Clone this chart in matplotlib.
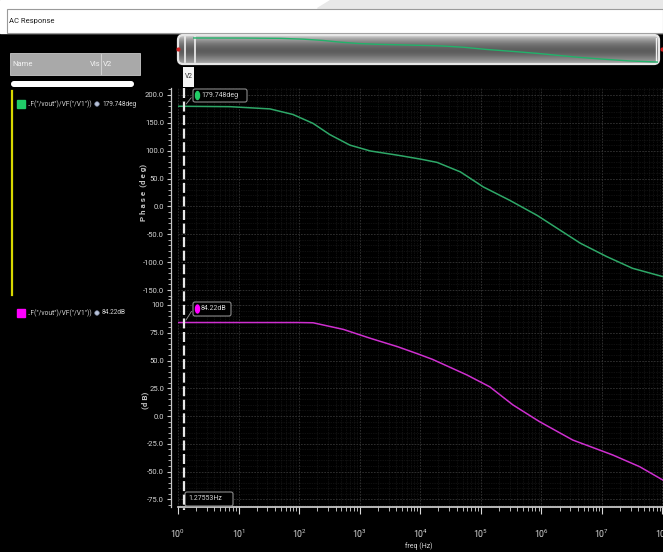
"""
AC response (Virtuoso-style waveform window): phase and magnitude of
VF("/vout")/VF("/V1") vs frequency, with the V2 marker at 1.27553 Hz.
"""
import numpy as np
import matplotlib
matplotlib.use("Agg")
import matplotlib.pyplot as plt
from matplotlib.patches import FancyBboxPatch, Rectangle, Ellipse, Polygon
from matplotlib.ticker import FixedLocator, FixedFormatter, MultipleLocator, LogLocator, NullFormatter
from matplotlib.transforms import blended_transform_factory

W, H = 663, 552
FONT = ["Roboto", "DejaVu Sans"]
plt.rcParams["font.family"] = FONT
plt.rcParams["mathtext.fontset"] = "custom"
plt.rcParams["mathtext.rm"] = "Roboto"
plt.rcParams["mathtext.it"] = "Roboto"

# phase trace
PH_FREQ = [1, 7.2, 33, 79, 170, 320, 690, 1500, 4200, 1.0e4, 1.9e4, 4.6e4,
           1.1e5, 3.0e5, 8.5e5, 2.0e6, 4.4e6, 1.2e7, 3.2e7, 1.02e8]
PH_DEG = [179.75, 179, 175, 165, 149, 129, 110, 99.5, 92, 85, 79, 62,
          35, 11, -16, -42, -66, -90, -111, -126]

# magnitude trace
MAG_FREQ = [1, 100, 170, 540, 1500, 4200, 9100, 1.6e4, 5.9e4, 1.4e5, 3.4e5,
            9.3e5, 3.3e6, 1.5e7, 4.2e7, 1.02e8]
MAG_DB = [84.22, 84.2, 84.0, 78, 70, 62.5, 56, 51, 37, 26.4, 10,
          -5, -21.6, -35, -45.6, -57.7]

# axes ticks
PH_TICKS = [200, 150, 100, 50, 0, -50, -100, -150]
PH_LABELS = ["200.0", "150.0", "100.0", "50.0", "0.0", "-50.0", "-100.0", "-150.0"]
MAG_TICKS = [100, 75, 50, 25, 0, -25, -50, -75]
MAG_LABELS = ["100", "75.0", "50.0", "25.0", "0.0", "-25.0", "-50.0", "-75.0"]
DECADES = [0, 1, 2, 3, 4, 5, 6, 7, 8]

# marker V2
MARKER_F = 1.27553
MARKER_PH = 179.748
MARKER_DB = 84.22
TRACE_NAME = '..F("/vout")/VF("/V1"))'

GREEN = "#2ea868"
MAGENTA = "#cf2fd0"
TXT = "#d6d6d6"


def px_axes(fig, x0, y0, x1, y1, **kw):
    return fig.add_axes([x0 / W, 1 - y1 / H, (x1 - x0) / W, (y1 - y0) / H], **kw)


fig = plt.figure(figsize=(W / 100, H / 100), dpi=100, facecolor="black")

# ---- window chrome -------------------------------------------------------
bg = fig.add_axes([0, 0, 1, 1])
bg.set_xlim(0, W); bg.set_ylim(H, 0); bg.axis("off")
bg.add_patch(Rectangle((0, 0), W, 33, color="white"))
bg.add_patch(Polygon([(330, 0), (W, 0), (W, 8), (317, 8)], color="#e8e8e8"))
bg.add_patch(Rectangle((7, 9), W - 7, 24, facecolor="white", edgecolor="#9a9a9a", lw=0.8))
bg.text(9, 21, "AC Response", fontsize=5.5, color="#202020", va="center")

# left panel
bg.add_patch(Rectangle((10, 53), 130, 22, facecolor="#a9a9a9", edgecolor="#c8c8c8", lw=0.6))
bg.text(12, 64, "Name", fontsize=5.5, color="#f2f2f2", va="center")
bg.text(90, 64, "Vis", fontsize=5.5, color="#f2f2f2", va="center")
bg.plot([101, 101], [54, 74], color="#d8d8d8", lw=0.6)
bg.text(103, 64, "V2", fontsize=5.5, color="#f2f2f2", va="center")
bg.add_patch(FancyBboxPatch((11, 81), 123, 6, boxstyle="round,pad=0,rounding_size=3",
                            facecolor="white", edgecolor="none"))
bg.plot([12, 12], [91, 295], color="#d8d800", lw=1.6)

for y, col, val in [(104, "#20cc68", f"{MARKER_PH}deg"), (313, "#ff00ff", f"{MARKER_DB}dB")]:
    bg.add_patch(Rectangle((17, y - 4), 8, 8, color=col))
    bg.text(28, y, TRACE_NAME, fontsize=4.8, color=TXT, va="center")
    bg.add_patch(Ellipse((97, y), 4.5, 4.5, facecolor="#b8c2d8", edgecolor="#7a86a0", lw=0.5))
    bg.text(102, y, val, fontsize=4.7, color=TXT, va="center")

# scroller strip at the top
grad = np.array([0.80, 0.66, 0.56, 0.48, 0.42, 0.38, 0.36, 0.38, 0.43, 0.50, 0.57, 0.64]).reshape(-1, 1)
frame = FancyBboxPatch((178, 35), 481, 29, boxstyle="round,pad=0,rounding_size=5",
                       facecolor="none", edgecolor="#e6e6e6", lw=1.6)
bg.add_patch(frame)
im = bg.imshow(grad, cmap="gray", vmin=0, vmax=1, aspect="auto",
               extent=[178, 659, 64, 35], interpolation="bilinear")
im.set_clip_path(frame)
bg.set_xlim(0, W); bg.set_ylim(H, 0)
bg.plot([185, 185], [37, 62], color="#f0f0f0", lw=1.2)
bg.plot([195, 195], [37, 62], color="#f0f0f0", lw=1.2)
bg.plot([656, 656], [38, 61], color="#f0f0f0", lw=1.0)
bg.plot([178, 662], [49, 49], ls="none", marker="o", ms=2, color="#d02020")

ov_strip = px_axes(fig, 193, 36, 658, 63)
ov_strip.set_xscale("log"); ov_strip.axis("off")
ov_strip.plot(PH_FREQ, PH_DEG, color="#22b26a", lw=1.0)
ov_strip.set_xlim(1, 1.02e8); ov_strip.set_ylim(-138, 205)

# V2 tab
bg.add_patch(Rectangle((183, 67), 11, 20, facecolor="#f4f4f4", edgecolor="none"))
bg.text(188.5, 77, "V2", fontsize=4.8, color="#303030", ha="center", va="center")

# ---- plot strips ---------------------------------------------------------
ax_ph = px_axes(fig, 178, 88, 663, 297)
ax_mag = px_axes(fig, 178, 297, 663, 507)

for ax in (ax_ph, ax_mag):
    ax.set_facecolor("black")
    ax.set_xscale("log")
    ax.set_xlim(1, 1.02e8)
    for s in ("top", "right"):
        ax.spines[s].set_visible(False)
    ax.spines["left"].set_position(("outward", 5))
    ax.spines["left"].set_color("#c8c8c8")
    ax.spines["left"].set_linewidth(0.9)
    ax.xaxis.set_major_locator(LogLocator(base=10, numticks=12))
    ax.xaxis.set_minor_locator(LogLocator(base=10, subs=np.arange(2, 10), numticks=12))
    ax.tick_params(axis="y", which="major", direction="out", length=3, width=0.8,
                   color="#c8c8c8", labelcolor=TXT, labelsize=5.5, pad=2)
    ax.tick_params(axis="y", which="minor", direction="out", length=2, width=0.6, color="#c8c8c8")
    ax.grid(which="major", color="#353535", lw=0.6, ls=(0, (2, 1.5)))
    ax.grid(which="minor", color="#202020", lw=0.5, ls=(0, (1, 1.5)))

ax_ph.plot(PH_FREQ, PH_DEG, color=GREEN, lw=1.1)
ax_ph.set_ylim(-162.5, 212.5)
ax_ph.yaxis.set_major_locator(FixedLocator(PH_TICKS))
ax_ph.yaxis.set_major_formatter(FixedFormatter(PH_LABELS))
ax_ph.yaxis.set_minor_locator(MultipleLocator(10))
ax_ph.spines["bottom"].set_visible(False)
ax_ph.tick_params(axis="x", which="both", bottom=False, labelbottom=False)

ax_mag.plot(MAG_FREQ, MAG_DB, color=MAGENTA, lw=1.1)
ax_mag.set_ylim(-81.9, 107.2)
ax_mag.yaxis.set_major_locator(FixedLocator(MAG_TICKS))
ax_mag.yaxis.set_major_formatter(FixedFormatter(MAG_LABELS))
ax_mag.yaxis.set_minor_locator(MultipleLocator(5))
ax_mag.spines["bottom"].set_color("#d8d8d8")
ax_mag.spines["bottom"].set_linewidth(1.2)
ax_mag.set_xticks([10.0 ** d for d in DECADES])
ax_mag.set_xticklabels([rf"$10^{{{d}}}$" for d in DECADES])
ax_mag.xaxis.set_minor_formatter(NullFormatter())
ax_mag.tick_params(axis="x", which="major", direction="out", length=5, width=0.8,
                   color="#d8d8d8", labelcolor=TXT, labelsize=6.3, pad=10)
ax_mag.tick_params(axis="x", which="minor", direction="out", length=3, width=0.6, color="#d8d8d8")

fig.text(143 / W, 1 - 192 / H, "P h a s e  (d e g)", rotation=90, fontsize=5.8, color="#c4c4c4",
         ha="center", va="center", fontweight="bold")
fig.text(145 / W, 1 - 400 / H, "(d B)", rotation=90, fontsize=5.8, color="#c4c4c4",
         ha="center", va="center", fontweight="bold")
fig.text(419 / W, 1 - 546 / H, "freq (Hz)", fontsize=5, color=TXT,
         ha="center", va="center")

# ---- marker overlay ------------------------------------------------------
ov = fig.add_axes([0, 0, 1, 1], facecolor="none")
ov.set_xlim(0, W); ov.set_ylim(H, 0); ov.axis("off")
xt = blended_transform_factory(ax_mag.transData, ov.transData)
ov.plot([MARKER_F, MARKER_F], [88, 510], transform=xt, color="#e8e8e8", lw=1.6,
        dashes=(4.5, 1.6))


def marker_box(x, y, w, h, text, dot=None, anchor=None, anchor_ax=None):
    ov.add_patch(FancyBboxPatch((x, y), w, h, boxstyle="round,pad=0,rounding_size=2",
                                facecolor="black", edgecolor="#8c8c8c", lw=0.8))
    tx = x + 3
    if dot is not None:
        ov.add_patch(Ellipse((x + 4.5, y + h / 2), 4, 8, color=dot))
        tx = x + 8
    ov.text(tx, y + h / 2, text, fontsize=5, color=TXT, va="center")
    if anchor is not None:
        ov.annotate("", xy=anchor, xycoords=anchor_ax.transData, xytext=(x, y + h / 2),
                    textcoords=ov.transData,
                    arrowprops=dict(arrowstyle="-", color="#9a9a9a", lw=0.6))


marker_box(193, 89, 54, 13, f"{MARKER_PH}deg", dot="#22cc66",
           anchor=(MARKER_F, MARKER_PH), anchor_ax=ax_ph)
marker_box(193, 302, 38, 14, f"{MARKER_DB}dB", dot="#ff00ff",
           anchor=(MARKER_F, MARKER_DB), anchor_ax=ax_mag)
marker_box(185, 492, 48, 14, f"{MARKER_F}Hz")

fig.savefig("out.png", dpi=100, facecolor="black")
